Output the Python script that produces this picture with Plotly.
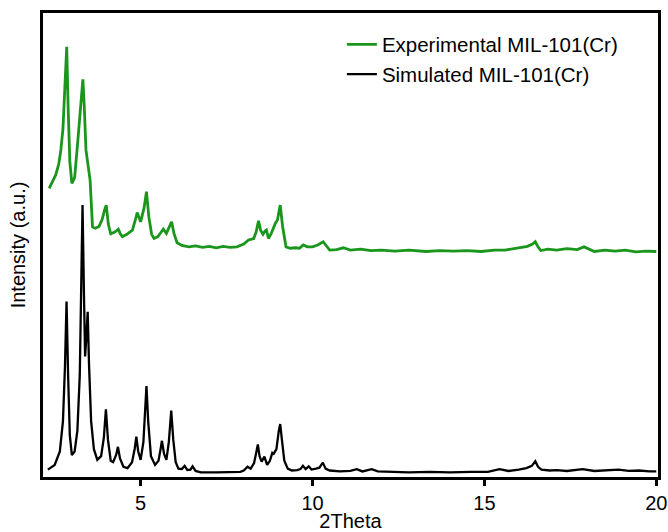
import plotly.graph_objects as go

# Simulated MIL-101(Cr) pattern (2Theta, intensity a.u.)
sim_x = [2.30, 2.50, 2.65, 2.74, 2.80, 2.845, 2.89, 2.94, 3.00, 3.08, 3.16, 3.23, 3.28, 3.31,
         3.35, 3.385, 3.42, 3.46, 3.50, 3.56, 3.64, 3.74, 3.85, 3.93, 3.99, 4.05, 4.13, 4.20,
         4.29, 4.34, 4.40, 4.50, 4.62, 4.75, 4.83, 4.875, 4.93, 5.00, 5.08, 5.13, 5.17, 5.22,
         5.30, 5.42, 5.52, 5.58, 5.62, 5.68, 5.75, 5.82, 5.89, 5.95, 6.02, 6.10, 6.20, 6.28,
         6.36, 6.45, 6.51, 6.60, 6.75, 7.20, 7.60, 7.90, 8.00, 8.11, 8.20, 8.30, 8.37, 8.41,
         8.46, 8.52, 8.60, 8.68, 8.76, 8.83, 8.87, 8.95, 9.02, 9.06, 9.11, 9.18, 9.28, 9.40,
         9.55, 9.65, 9.72, 9.80, 9.89, 9.97, 10.10, 10.20, 10.30, 10.38, 10.50, 10.80, 11.10,
         11.29, 11.45, 11.72, 11.90, 12.30, 12.80, 13.40, 14.00, 14.60, 15.10, 15.44, 15.70,
         16.00, 16.22, 16.38, 16.48, 16.56, 16.66, 16.90, 17.10, 17.40, 17.86, 18.20, 18.60,
         18.90, 19.20, 19.50, 19.80, 20.00]
sim_y = [1.6, 2.6, 5.5, 12.0, 24.0, 37.8, 22.0, 9.0, 4.7, 5.5, 10.0, 22.0, 45.0, 58.6,
         40.0, 26.0, 30.0, 35.6, 24.0, 12.0, 6.0, 3.7, 4.5, 8.5, 14.6, 8.0, 3.5, 3.2,
         4.8, 6.5, 4.0, 2.2, 1.9, 3.2, 6.2, 8.7, 5.5, 3.7, 7.5, 14.0, 19.6, 12.0,
         4.5, 2.6, 3.5, 6.0, 7.8, 5.0, 3.7, 7.5, 14.3, 8.0, 3.2, 1.8, 1.7, 2.4,
         1.5, 1.6, 2.3, 1.3, 1.0, 1.0, 1.0, 1.1, 1.4, 2.2, 1.8, 3.0, 5.5, 7.0,
         4.5, 3.3, 4.4, 2.6, 3.5, 5.2, 5.0, 6.0, 10.0, 11.4, 8.0, 3.5, 1.8, 1.4,
         1.5, 1.7, 2.4, 1.7, 2.3, 1.6, 1.8, 2.0, 3.1, 1.8, 1.4, 1.2, 1.3,
         1.7, 1.2, 1.7, 1.2, 1.1, 1.0, 1.1, 1.0, 1.1, 1.1, 1.7, 1.3,
         1.6, 1.9, 2.4, 3.4, 2.2, 1.6, 1.4, 1.5, 1.3, 1.7, 1.3, 1.4,
         1.6, 1.3, 1.4, 1.2, 1.2]

# Experimental MIL-101(Cr) pattern (2Theta, intensity a.u.)
exp_x = [2.34, 2.45, 2.53, 2.62, 2.68, 2.74, 2.80, 2.85, 2.89, 2.94, 3.00, 3.08, 3.16, 3.24,
         3.29, 3.32, 3.36, 3.41, 3.45, 3.53, 3.60, 3.68, 3.79, 3.88, 3.95, 4.00, 4.06, 4.13,
         4.25, 4.35, 4.41, 4.47, 4.60, 4.76, 4.85, 4.90, 4.95, 5.00, 5.10, 5.17, 5.24, 5.32,
         5.39, 5.50, 5.60, 5.66, 5.75, 5.84, 5.90, 5.97, 6.06, 6.20, 6.40, 6.60, 6.80, 7.00,
         7.20, 7.40, 7.60, 7.80, 8.00, 8.14, 8.29, 8.36, 8.43, 8.49, 8.56, 8.62, 8.66, 8.72,
         8.80, 8.92, 8.98, 9.06, 9.13, 9.23, 9.35, 9.50, 9.62, 9.73, 9.85, 10.00, 10.15, 10.31,
         10.40, 10.50, 10.70, 10.90, 11.10, 11.40, 11.70, 12.00, 12.40, 12.80, 13.30, 13.70,
         14.10, 14.50, 14.90, 15.30, 15.60, 16.00, 16.25, 16.40, 16.48, 16.56, 16.64, 16.85,
         17.10, 17.40, 17.70, 17.90, 18.20, 18.50, 18.80, 19.10, 19.40, 19.70, 20.00]
exp_y = [62.2, 63.8, 65.1, 67.5, 70.5, 75.0, 84.0, 92.7, 80.0, 68.0, 63.3, 64.5, 71.3, 78.0,
         83.5, 85.7, 80.0, 70.5, 68.3, 64.0, 53.9, 53.6, 54.0, 55.5, 57.5, 58.6, 54.5, 52.4,
         52.8, 53.4, 52.4, 51.8, 52.3, 53.2, 55.5, 57.0, 56.0, 55.0, 58.0, 61.5, 56.0, 52.3,
         51.4, 51.8, 52.8, 53.4, 52.5, 53.8, 55.0, 52.5, 50.5, 49.9, 49.6, 49.8, 49.5, 49.7,
         49.4, 49.7, 49.5, 49.6, 50.2, 51.1, 51.4, 52.8, 55.2, 53.2, 52.3, 53.0, 53.2, 51.4,
         52.5, 54.7, 55.4, 58.6, 54.0, 49.6, 49.3, 49.4, 49.3, 50.0, 49.6, 49.6, 50.0, 50.7,
         49.8, 48.9, 49.0, 49.4, 48.9, 49.1, 48.8, 48.9, 48.7, 48.9, 48.6, 48.8,
         48.7, 48.8, 48.6, 48.9, 48.9, 49.3, 49.7, 50.2, 50.7, 49.6, 48.8, 49.1,
         48.9, 49.2, 49.0, 49.6, 48.6, 48.9, 48.7, 48.9, 48.5, 48.7, 48.6]

x_ticks = [5, 10, 15, 20]

FONT = "Liberation Sans, Arial, sans-serif"

fig = go.Figure()
fig.add_trace(go.Scatter(x=exp_x, y=exp_y, mode="lines", name="Experimental MIL-101(Cr)",
                         line=dict(color="#1a961c", width=2.8)))
fig.add_trace(go.Scatter(x=sim_x, y=sim_y, mode="lines", name="Simulated MIL-101(Cr)",
                         line=dict(color="#000000", width=2.3)))

fig.update_layout(
    width=668, height=532,
    margin=dict(l=43, r=10, t=13, b=55, autoexpand=False),
    paper_bgcolor="white", plot_bgcolor="white",
    font=dict(family=FONT, size=20, color="black"),
    showlegend=True,
    legend=dict(x=0.486, y=0.975, xanchor="left", yanchor="top",
                bgcolor="rgba(0,0,0,0)", font=dict(size=20.5),
                tracegroupgap=0, itemwidth=30),
    xaxis=dict(range=[2.16, 20.05], tickmode="array", tickvals=x_ticks,
               ticks="outside", ticklen=6, tickwidth=3, tickcolor="black",
               showline=True, linewidth=3, linecolor="black", mirror=True,
               showgrid=False, zeroline=False, automargin=False,
               title=dict(text="2Theta", standoff=0, font=dict(size=20))),
    yaxis=dict(range=[0, 100], showticklabels=False, ticks="",
               showline=True, linewidth=3, linecolor="black", mirror=True,
               showgrid=False, zeroline=False, automargin=False,
               title=dict(text="Intensity (a.u.)", standoff=10, font=dict(size=20))),
)

fig.write_html("out.html")
